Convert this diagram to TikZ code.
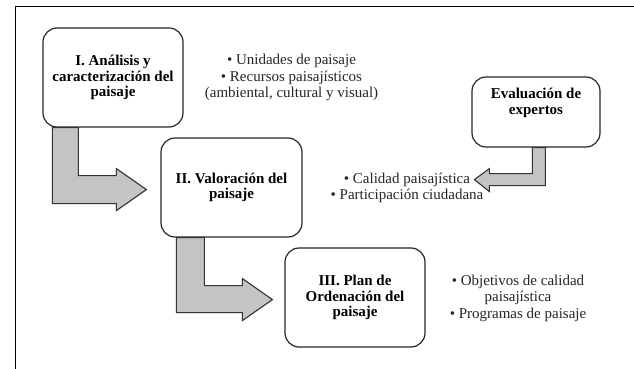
\documentclass[tikz,border=0pt]{standalone}
\usepackage{fontspec}
\setmainfont{Liberation Serif}
\usetikzlibrary{calc}
\begin{document}
\begin{tikzpicture}[x=1pt,y=-1pt,
  stage/.style={draw=black!85, line width=1.2pt, fill=white, rounded corners=14pt,
    align=center, font=\fontsize{15}{15.5}\selectfont\bfseries, inner sep=0pt},
  note/.style={align=center, text=black!85, font=\fontsize{15}{16.5}\selectfont, inner sep=0pt},
  blockarrow/.style={draw=black!80, line width=1.1pt, fill=black!23, line join=miter}]
\useasboundingbox (0,0) rectangle (634,369);
\fill[white] (0,0) rectangle (634,369);
\draw[line width=0.8pt] (15,369) -- (15,6) -- (634,6);

% boxes
\node[stage, minimum width=140pt, minimum height=99pt] (b1) at (113,77.5) {I. Análisis y\\caracterización del\\paisaje};
\node[stage, minimum width=141pt, minimum height=99pt] (b2) at (231.5,187.5) {II. Valoración del\\paisaje};
\node[stage, minimum width=140pt, minimum height=99pt] (b3) at (355,297.5) {III. Plan de\\Ordenación del\\paisaje};
\node[stage, minimum width=128pt, minimum height=70pt, font=\fontsize{15}{16.5}\selectfont\bfseries] (ev) at (536,112) {Evaluación de\\expertos\\\strut};

% block arrows
\draw[blockarrow] ($(b1.south west)+(10,0)$) --++(0,76) --++(64,0) --++(0,7) --++(30,-21)
  --++(-30,-21) --++(0,7) --++(-38,0) --++(0,-48) -- cycle;
\draw[blockarrow] ($(b2.south west)+(16,0)$) --++(0,75) --++(66,0) --++(0,8) --++(30,-21)
  --++(-30,-21) --++(0,7) --++(-38,0) --++(0,-48) -- cycle;
\draw[blockarrow] ($(ev.south west)+(74,0)$) --++(0,38) --++(-56,0) --++(0,6) --++(-15,-12)
  --++(15,-11) --++(0,5) --++(43,0) --++(0,-26) -- cycle;

% notes
\node[note] (n1) at (291.5,77.5) {• Unidades de paisaje\\• Recursos paisajísticos\\(ambiental, cultural y visual)};
\node[note] (n2) at (407,188) {• Calidad paisajística\\• Participación ciudadana};
\node[note] (n3) at (518,298) {• Objetivos de calidad\\paisajística\\• Programas de paisaje};
\end{tikzpicture}
\end{document}
